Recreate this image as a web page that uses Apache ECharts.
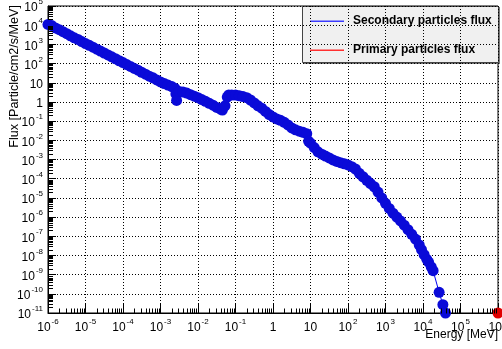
<!DOCTYPE html>
<html>
<head>
<meta charset="utf-8">
<script src="https://cdn.jsdelivr.net/npm/echarts@6/dist/echarts.min.js"></script>
<style>
  html, body { margin: 0; padding: 0; background: #ffffff; }
  #chart { width: 502px; height: 349px; }
</style>
</head>
<body>
<div id="chart"></div>
<script>
// Secondary particle flux spectrum (MeV) vs energy
const secondaryEnergy = [
  1.00e-6, 1.26e-6, 1.58e-6, 2.00e-6, 2.51e-6, 3.16e-6, 3.98e-6, 5.01e-6, 6.31e-6, 7.94e-6,
  1.00e-5, 1.26e-5, 1.58e-5, 2.00e-5, 2.51e-5, 3.16e-5, 3.98e-5, 5.01e-5, 6.31e-5, 7.94e-5,
  1.00e-4, 1.26e-4, 1.58e-4, 2.00e-4, 2.51e-4, 3.16e-4, 3.98e-4, 5.01e-4, 6.31e-4, 7.94e-4,
  1.00e-3, 1.26e-3, 1.58e-3, 2.00e-3, 2.40e-3, 2.57e-3, 2.69e-3, 3.16e-3, 3.98e-3, 5.01e-3, 6.31e-3, 7.94e-3,
  1.00e-2, 1.26e-2, 1.58e-2, 2.00e-2, 2.51e-2, 3.16e-2, 3.98e-2, 4.47e-2, 5.25e-2, 6.03e-2, 6.61e-2, 7.94e-2,
  0.100, 0.126, 0.158, 0.200, 0.251, 0.316, 0.398, 0.501, 0.631, 0.794,
  1.00, 1.26, 1.58, 2.00, 2.51, 3.16, 3.98, 5.01, 6.31, 7.94, 8.91,
  10.0, 12.6, 15.8, 20.0, 25.1, 31.6, 39.8, 50.1, 63.1, 79.4,
  100, 126, 158, 200, 251, 316, 398, 501, 631, 794,
  1000, 1260, 1580, 2000, 2510, 3160, 3980, 5010, 6310, 7940, 9120,
  10700, 12600, 14100, 16600, 18600, 26900, 33900, 39800
];
const secondaryFlux = [
  1.1e4, 9.5e3, 7.2e3, 5.8e3, 4.6e3, 3.6e3, 2.8e3, 2.2e3, 1.8e3, 1.4e3,
  1.1e3, 890, 710, 560, 450, 355, 280, 225, 178, 140,
  112, 89, 71, 56, 45, 35, 28, 22, 18, 14,
  11, 9.1, 7.6, 6.3, 5.2, 2.6, 1.2, 3.5, 3.3, 2.9, 2.4, 2.0,
  1.66, 1.32, 1.07, 0.85, 0.68, 0.52, 0.42, 0.38, 0.63, 1.8, 2.3, 2.3,
  2.3, 2.1, 1.9, 1.66, 1.26, 0.89, 0.63, 0.47, 0.32, 0.22,
  0.166, 0.13, 0.11, 0.087, 0.063, 0.044, 0.035, 0.030, 0.026, 0.022, 0.0089,
  0.0071, 0.0042, 0.0025, 0.0019, 0.0015, 0.0012, 9.5e-4, 7.9e-4, 6.8e-4, 6.0e-4,
  5.2e-4, 4.2e-4, 3.2e-4, 1.9e-4, 1.26e-4, 8.3e-5, 5.6e-5, 3.8e-5, 2.0e-5, 1.0e-5,
  5.2e-6, 2.8e-6, 1.6e-6, 1.0e-6, 6.3e-7, 3.8e-7, 2.2e-7, 1.26e-7, 7.1e-8, 3.5e-8, 2.0e-8,
  1.1e-8, 6.3e-9, 4.5e-9, 2.5e-9, 1.6e-9, 1.2e-10, 2.7e-11, 1.0e-11
];
const primaryEnergy = [1.0e6];
const primaryFlux = [1.0e-11];

const legendLabels = ['Secondary particles flux', 'Primary particles flux'];
const xTitle = 'Energy [MeV]';
const yTitle = 'Flux [Particle/cm2/s/MeV]';

const X_MIN = 1e-6, X_MAX = 1e6;
const Y_MIN = 1e-11, Y_MAX = 1e5;
const FONT = '"Liberation Sans", Arial, Helvetica, sans-serif';

// minor tick values (2..9 x 10^n) inside each decade
function minorValues(lo, hi) {
  const out = [];
  for (let n = Math.round(Math.log10(lo)); n < Math.round(Math.log10(hi)); n++) {
    for (let k = 2; k <= 9; k++) out.push(k * Math.pow(10, n));
  }
  return out;
}
const xMinor = minorValues(X_MIN, X_MAX).map(v => [v, Y_MIN, 0]);
const yMinor = minorValues(Y_MIN, Y_MAX).map(v => [X_MIN, v, 1]);

function powLabel(v) {
  const e = Math.round(Math.log10(v));
  if (e === 0) return '{p|1}';
  if (e === 1) return '{p|10}';
  return '{b|10}{e|' + e + '}';
}
const labelRich = {
  p: { fontSize: 12, fontFamily: FONT, color: '#000', lineHeight: 16, verticalAlign: 'bottom' },
  b: { fontSize: 12, fontFamily: FONT, color: '#000', lineHeight: 16, verticalAlign: 'bottom' },
  e: { fontSize: 8, fontFamily: FONT, color: '#000', lineHeight: 16, verticalAlign: 'top', padding: [0, 0, 0, 1] }
};

const chart = echarts.init(document.getElementById('chart'), null, { renderer: 'canvas' });

const gridLine = { show: true, lineStyle: { color: '#000', width: 1, type: [1, 2] } };

chart.setOption({
  backgroundColor: '#ffffff',
  animation: false,
  grid: {
    left: 48, top: 6, width: 450, height: 307,
    outerBoundsMode: 'none', containLabel: false,
    show: true, borderColor: '#000', borderWidth: 1, backgroundColor: 'transparent'
  },
  xAxis: {
    type: 'log', logBase: 10, min: X_MIN, max: X_MAX, interval: 1,
    axisLine: { lineStyle: { color: '#000', width: 1 } },
    axisTick: { show: true, inside: true, length: 9, lineStyle: { color: '#000' } },
    splitLine: gridLine,
    axisLabel: { margin: 5, formatter: powLabel, rich: labelRich, showMinLabel: true, showMaxLabel: true, hideOverlap: false }
  },
  yAxis: {
    type: 'log', logBase: 10, min: Y_MIN, max: Y_MAX, interval: 1,
    axisLine: { lineStyle: { color: '#000', width: 1 } },
    axisTick: { show: true, inside: true, length: 8, lineStyle: { color: '#000' } },
    splitLine: gridLine,
    axisLabel: { margin: 5, formatter: powLabel, rich: labelRich, showMinLabel: true, showMaxLabel: true, hideOverlap: false }
  },
  series: [
    {
      name: legendLabels[0],
      type: 'line',
      data: secondaryEnergy.map((x, i) => [x, secondaryFlux[i]]),
      symbol: 'circle', symbolSize: 11, showSymbol: true,
      lineStyle: { color: '#0000f0', width: 1 },
      itemStyle: { color: '#0a0ad8' },
      emphasis: { disabled: true },
      z: 3
    },
    {
      name: legendLabels[1],
      type: 'line',
      data: primaryEnergy.map((x, i) => [x, primaryFlux[i]]),
      symbol: 'circle', symbolSize: 11, showSymbol: true,
      lineStyle: { color: '#ff0000', width: 1 },
      itemStyle: { color: '#e00000' },
      emphasis: { disabled: true },
      z: 4
    },
    {
      type: 'custom',
      data: xMinor.concat(yMinor),
      silent: true,
      clip: false,
      z: 5,
      renderItem: function (params, api) {
        const p = api.coord([api.value(0), api.value(1)]);
        const vertical = api.value(2) === 0;
        const x = Math.round(p[0]) + 0.5;
        const y = Math.round(p[1]) + 0.5;
        return {
          type: 'line',
          shape: vertical ? { x1: x, y1: y, x2: x, y2: y - 5 } : { x1: x - 0.5, y1: y, x2: x + 4.5, y2: y },
          style: { stroke: '#000', lineWidth: 1 }
        };
      }
    }
  ],
  graphic: [
    {
      type: 'text', x: 15, y: 5, rotation: Math.PI / 2, z: 10,
      style: { text: yTitle, font: '12.6px ' + FONT, fill: '#000', align: 'right', verticalAlign: 'middle' }
    },
    {
      type: 'text', x: 498, y: 335, z: 10,
      style: { text: xTitle, font: '12px ' + FONT, fill: '#000', align: 'right', verticalAlign: 'middle' }
    },
    {
      type: 'group', x: 302, y: 6, z: 20,
      children: [
        { type: 'rect', shape: { x: 1, y: 1, width: 197, height: 57 }, style: { fill: '#777' } },
        { type: 'rect', shape: { x: 0.5, y: 0.5, width: 196, height: 56 }, style: { fill: '#f0f0f0', stroke: '#444', lineWidth: 1 } },
        { type: 'rect', shape: { x: 8, y: 14.5, width: 34, height: 1.6 }, style: { fill: '#3c3cff' } },
        { type: 'text', x: 51, y: 15, style: { text: legendLabels[0], font: 'bold 12px ' + FONT, fill: '#000', verticalAlign: 'middle' } },
        { type: 'rect', shape: { x: 8, y: 43.5, width: 34, height: 1.6 }, style: { fill: '#ff3030' } },
        { type: 'text', x: 51, y: 44, style: { text: legendLabels[1], font: 'bold 12px ' + FONT, fill: '#000', verticalAlign: 'middle' } }
      ]
    }
  ]
});
</script>
</body>
</html>
